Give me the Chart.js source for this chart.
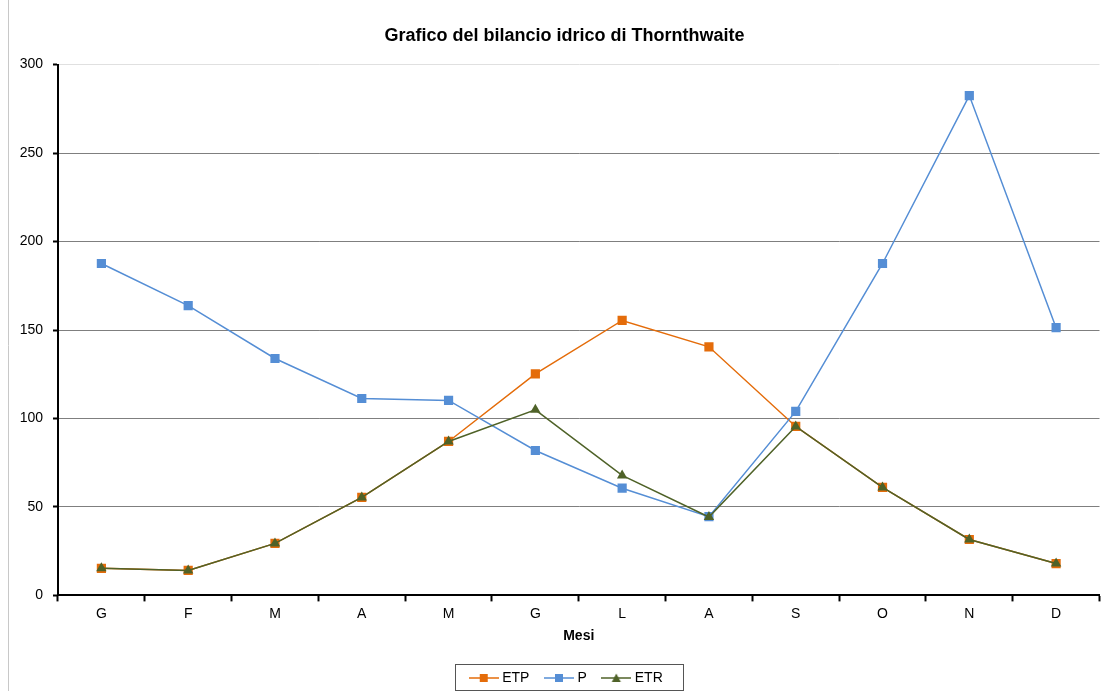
<!DOCTYPE html>
<html>
<head>
<meta charset="utf-8">
<title>Bilancio idrico di Thornthwaite</title>
<script src="https://cdn.jsdelivr.net/npm/chart.js@4"></script>
<style>
    html, body { margin: 0; padding: 0; background: #fff; }
    #wrap { width: 1106px; height: 691px; }
</style>
</head>
<body>
<div id="wrap"><canvas id="bilancioChart"></canvas></div>
<script>
// mesi
const mesi = ['G', 'F', 'M', 'A', 'M', 'G', 'L', 'A', 'S', 'O', 'N', 'D'];
// evapotraspirazione potenziale (mm)
const etp = [15.3, 14.1, 29.4, 55.4, 87, 125.2, 155.4, 140.5, 95.5, 61, 31.6, 18];
// precipitazioni (mm)
const prec = [187.6, 163.8, 133.9, 111.3, 110.2, 81.9, 60.6, 44.5, 104, 187.6, 282.5, 151.3];
// evapotraspirazione reale (mm)
const etr = [15.3, 14.1, 29.4, 55.4, 87, 104.9, 67.8, 44.3, 95.5, 61, 31.6, 18];
const yTicks = [0, 50, 100, 150, 200, 250, 300];

const ORANGE = '#E46C0A';
const BLUE = '#558ED5';
const GREEN = '#4F6228';

// piccola icona per la legenda: linea + marcatore
function legendIcon(color, shape) {
    const c = document.createElement('canvas');
    c.width = 30;
    c.height = 12;
    const g = c.getContext('2d');
    g.strokeStyle = color;
    g.lineWidth = 1.5;
    g.beginPath();
    g.moveTo(0, 6);
    g.lineTo(30, 6);
    g.stroke();
    g.fillStyle = color;
    if (shape === 'triangle') {
        g.beginPath();
        g.moveTo(15, 1.5);
        g.lineTo(19.5, 10);
        g.lineTo(10.5, 10);
        g.closePath();
        g.fill();
    } else {
        g.fillRect(11, 2, 8, 8);
    }
    return c;
}

// il grafico originale era centrato su una tela piu' larga
const shiftBlocks = {
    id: 'shiftBlocks',
    afterLayout(chart) {
        chart.titleBlock.left += 12;
        chart.titleBlock.right += 12;
        chart.legend.left += 15;
        chart.legend.right += 15;
    }
};

const chartBorder = {
    id: 'chartBorder',
    afterDraw(chart) {
        const ctx = chart.ctx;
        ctx.save();
        ctx.strokeStyle = '#c8c8c8';
        ctx.lineWidth = 1;
        ctx.beginPath();
        ctx.moveTo(8.5, 0);
        ctx.lineTo(8.5, chart.height);
        ctx.stroke();

        // riquadro della legenda
        const boxes = chart.legend.legendHitBoxes;
        if (boxes && boxes.length) {
            const first = boxes[0];
            const last = boxes[boxes.length - 1];
            const cy = first.top + first.height / 2;
            const left = first.left - 3.5 - 14;
            const right = last.left + last.width + 20;
            ctx.strokeStyle = '#555';
            ctx.strokeRect(Math.round(left) + 0.5, Math.round(cy - 14) + 0.5, Math.round(right - left), 26);
        }
        ctx.restore();
    }
};

const ctx = document.getElementById('bilancioChart').getContext('2d');
const myChart = new Chart(ctx, {
    type: 'line',
    data: {
        labels: mesi,
        datasets: [
            {
                label: 'ETP',
                data: etp,
                borderColor: ORANGE,
                backgroundColor: ORANGE,
                borderWidth: 1.5,
                pointStyle: 'rect',
                pointRadius: 6.5,
                pointBorderWidth: 0,
                tension: 0,
                order: 2
            },
            {
                label: 'P',
                data: prec,
                borderColor: BLUE,
                backgroundColor: BLUE,
                borderWidth: 1.5,
                pointStyle: 'rect',
                pointRadius: 6.5,
                pointBorderWidth: 0,
                tension: 0,
                order: 1
            },
            {
                label: 'ETR',
                data: etr,
                borderColor: GREEN,
                backgroundColor: GREEN,
                borderWidth: 1.5,
                pointStyle: 'triangle',
                pointRadius: 6,
                pointBorderWidth: 0,
                tension: 0,
                order: 0
            }
        ]
    },
    options: {
        responsive: true,
        maintainAspectRatio: false,
        animation: false,
        layout: { padding: { left: 0, right: 1, top: 1, bottom: -4 } },
        plugins: {
            title: {
                display: true,
                text: 'Grafico del bilancio idrico di Thornthwaite',
                color: '#000',
                font: { family: 'Liberation Sans', size: 18, weight: 'bold' },
                padding: { top: 24, bottom: 18 }
            },
            legend: {
                position: 'bottom',
                labels: {
                    color: '#000',
                    font: { family: 'Liberation Sans', size: 14 },
                    usePointStyle: true,
                    pointStyleWidth: 23,
                    padding: 18,
                    generateLabels(chart) {
                        const shapes = ['rect', 'rect', 'triangle'];
                        return chart.data.datasets.map((ds, i) => ({
                            text: ds.label,
                            datasetIndex: i,
                            fillStyle: ds.borderColor,
                            strokeStyle: ds.borderColor,
                            fontColor: '#000',
                            lineWidth: 0,
                            hidden: false,
                            pointStyle: legendIcon(ds.borderColor, shapes[i])
                        }));
                    }
                }
            },
            tooltip: { enabled: false }
        },
        scales: {
            x: {
                offset: true,
                afterFit(scale) {
                    scale.paddingRight = 0;
                },
                grid: {
                    offset: true,
                    drawOnChartArea: false,
                    drawTicks: true,
                    tickLength: 6,
                    tickColor: '#000',
                    tickWidth: 2
                },
                border: { color: '#000', width: 2 },
                ticks: {
                    color: '#000',
                    font: { family: 'Liberation Sans', size: 14 },
                    padding: 4
                },
                title: {
                    display: true,
                    text: 'Mesi',
                    color: '#000',
                    font: { family: 'Liberation Sans', size: 14, weight: 'bold' },
                    padding: { top: 2, bottom: 8 }
                }
            },
            y: {
                min: 0,
                max: 300,
                afterBuildTicks(scale) {
                    scale.ticks = yTicks.map(v => ({ value: v }));
                },
                afterFit(scale) {
                    scale.width = 58;
                },
                grid: {
                    color: c => (c.tick && c.tick.value === 300 ? '#e0e0e0' : '#7f7f7f'),
                    lineWidth: 1,
                    tickLength: 5,
                    tickColor: '#000',
                    tickWidth: 2
                },
                border: { color: '#000', width: 2 },
                ticks: {
                    color: '#000',
                    font: { family: 'Liberation Sans', size: 14 },
                    padding: 10
                }
            }
        }
    },
    plugins: [shiftBlocks, chartBorder]
});
</script>
</body>
</html>
